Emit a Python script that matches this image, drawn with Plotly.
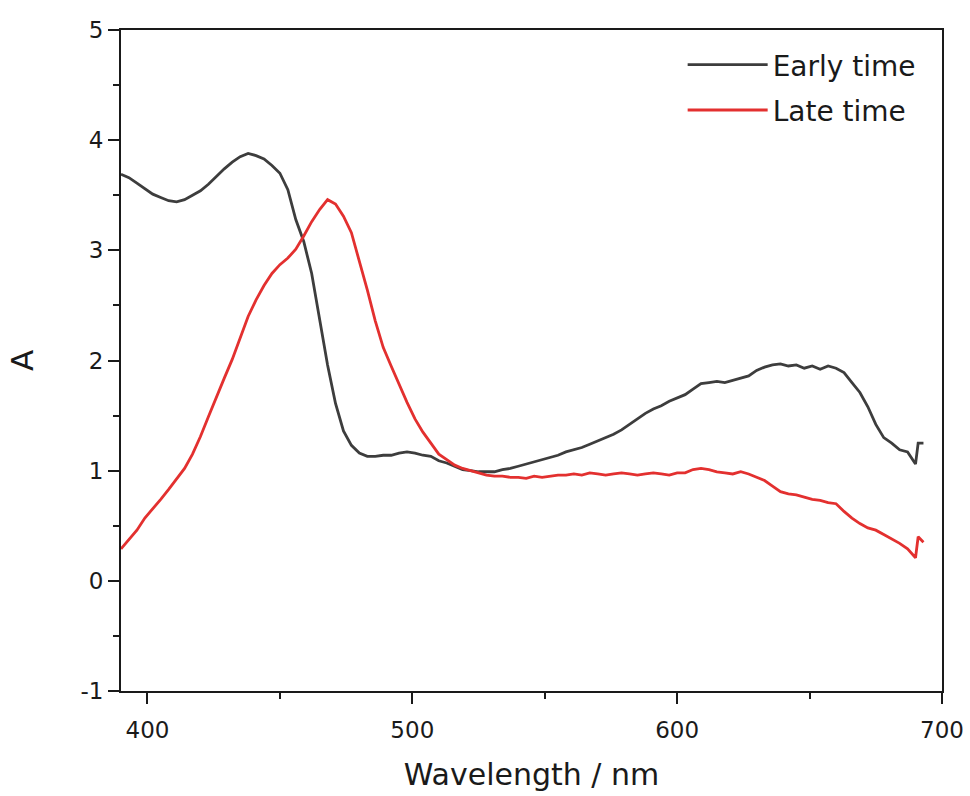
import plotly.graph_objects as go

wavelength = [390, 393, 396, 399, 402, 405, 408, 411, 414, 417, 420, 423, 426, 429, 432, 435, 438, 441, 444, 447,
              450, 453, 456, 459, 462, 465, 468, 471, 474, 477, 480, 483, 486, 489, 492, 495, 498, 501, 504, 507,
              510, 513, 516, 519, 522, 525, 528, 531, 534, 537, 540, 543, 546, 549, 552, 555, 558, 561, 564, 567,
              570, 573, 576, 579, 582, 585, 588, 591, 594, 597, 600, 603, 606, 609, 612, 615, 618, 621, 624, 627,
              630, 633, 636, 639, 642, 645, 648, 651, 654, 657, 660, 663, 666, 669, 672, 675, 678, 681, 684, 687,
              690, 691, 693]

early_time = [3.69, 3.66, 3.61, 3.56, 3.51, 3.48, 3.45, 3.44, 3.46, 3.50, 3.54, 3.60, 3.67, 3.74, 3.80, 3.85, 3.88, 3.86, 3.83, 3.77,
              3.70, 3.55, 3.28, 3.08, 2.79, 2.38, 1.96, 1.61, 1.36, 1.23, 1.16, 1.13, 1.13, 1.14, 1.14, 1.16, 1.17, 1.16, 1.14, 1.13,
              1.09, 1.07, 1.04, 1.01, 1.00, 0.99, 0.99, 0.99, 1.01, 1.02, 1.04, 1.06, 1.08, 1.10, 1.12, 1.14, 1.17, 1.19, 1.21, 1.24,
              1.27, 1.30, 1.33, 1.37, 1.42, 1.47, 1.52, 1.56, 1.59, 1.63, 1.66, 1.69, 1.74, 1.79, 1.80, 1.81, 1.80, 1.82, 1.84, 1.86,
              1.91, 1.94, 1.96, 1.97, 1.95, 1.96, 1.93, 1.95, 1.92, 1.95, 1.93, 1.89, 1.80, 1.71, 1.58, 1.42, 1.30, 1.25, 1.19, 1.17,
              1.06, 1.25, 1.25]

late_time = [0.29, 0.38, 0.46, 0.57, 0.65, 0.74, 0.83, 0.92, 1.02, 1.15, 1.31, 1.49, 1.67, 1.84, 2.01, 2.20, 2.40, 2.55, 2.68, 2.79,
             2.87, 2.93, 3.01, 3.13, 3.26, 3.37, 3.46, 3.42, 3.31, 3.16, 2.91, 2.64, 2.36, 2.12, 1.95, 1.78, 1.62, 1.47, 1.35, 1.25,
             1.15, 1.10, 1.05, 1.02, 1.00, 0.98, 0.96, 0.95, 0.95, 0.94, 0.94, 0.93, 0.95, 0.94, 0.95, 0.96, 0.96, 0.97, 0.96, 0.98,
             0.97, 0.96, 0.97, 0.98, 0.97, 0.96, 0.97, 0.98, 0.97, 0.96, 0.98, 0.98, 1.01, 1.02, 1.01, 0.99, 0.98, 0.97, 0.99, 0.97,
             0.94, 0.91, 0.86, 0.81, 0.79, 0.78, 0.76, 0.74, 0.73, 0.71, 0.70, 0.63, 0.57, 0.52, 0.48, 0.46, 0.42, 0.38, 0.34, 0.29,
             0.21, 0.40, 0.35]

x_ticks = [400, 500, 600, 700]
y_ticks = [-1, 0, 1, 2, 3, 4, 5]

FONT = "DejaVu Sans, Arial, sans-serif"
INK = "#1a1a1a"

fig = go.Figure()
fig.add_trace(go.Scatter(x=wavelength, y=early_time, mode="lines", name="Early time",
                         legendgroup="a", line=dict(color="#3d3d3d", width=2.8)))
fig.add_trace(go.Scatter(x=wavelength, y=late_time, mode="lines", name="Late time",
                         legendgroup="b", line=dict(color="#e3302f", width=2.8)))

axis_common = dict(showgrid=False, zeroline=False, showline=True, linecolor=INK, linewidth=2,
                   mirror=True, ticks="outside", tickcolor=INK, tickwidth=2, ticklen=11,
                   automargin=False,
                   tickfont=dict(family=FONT, size=23, color=INK),
                   minor=dict(ticks="outside", ticklen=6, tickwidth=2, tickcolor=INK))

fig.update_xaxes(range=[390, 700], tickvals=x_ticks, ticktext=[str(v) for v in x_ticks],
                 minor_dtick=50, minor_tick0=400, ticklabelstandoff=6,
                 title=dict(text="Wavelength / nm", font=dict(family=FONT, size=30, color=INK), standoff=22),
                 **axis_common)
fig.update_yaxes(range=[-1, 5], tickvals=y_ticks, ticktext=[str(v) for v in y_ticks],
                 minor_dtick=0.5, minor_tick0=0,
                 title=dict(text="A", font=dict(family=FONT, size=31, color=INK), standoff=38),
                 **axis_common)

fig.update_layout(
    width=970, height=796,
    margin=dict(l=121, r=28, t=30, b=105),
    paper_bgcolor="white", plot_bgcolor="white",
    font=dict(family=FONT, color=INK),
    legend=dict(x=0.974, y=0.985, xanchor="right", yanchor="top", bgcolor="rgba(0,0,0,0)",
                font=dict(family=FONT, size=28, color=INK), itemwidth=80, tracegroupgap=6),
    showlegend=True,
)

fig.write_html("out.html")
